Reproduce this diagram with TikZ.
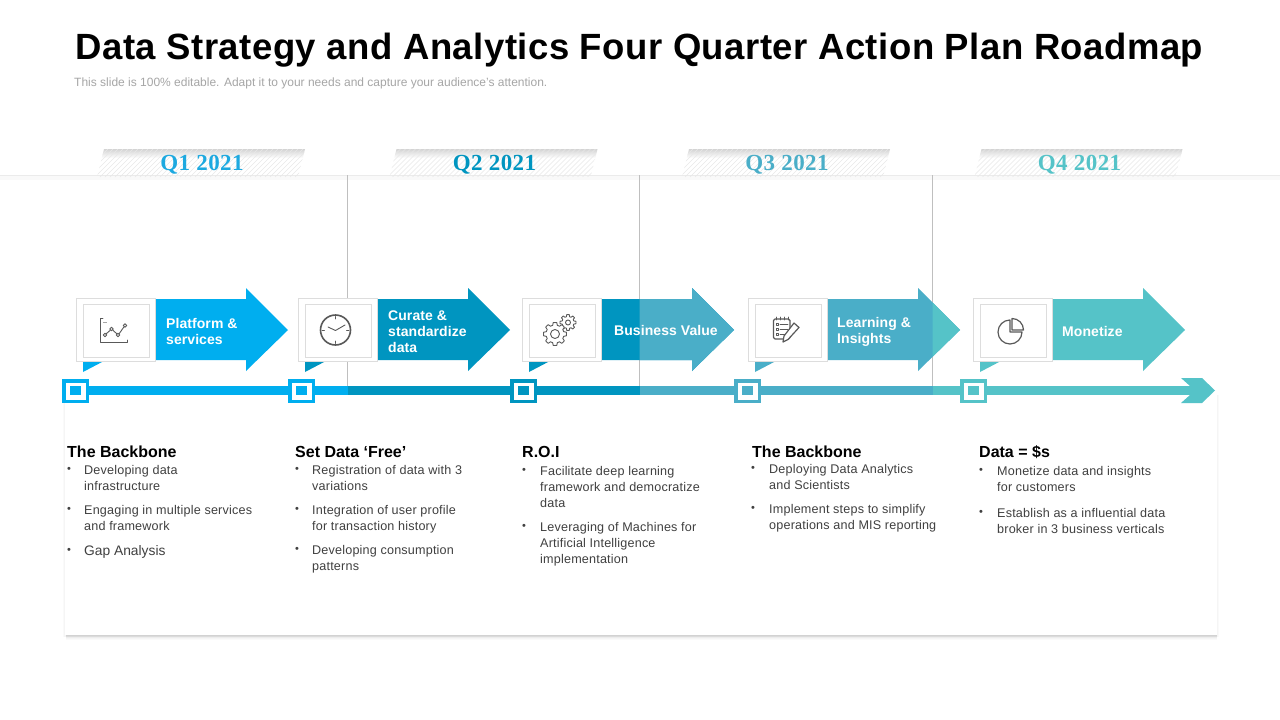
\documentclass[tikz,border=0pt]{standalone}
\usepackage{fontspec}
\setmainfont{Liberation Sans}
\newfontfamily\qfont{Liberation Serif}[LetterSpace=2]
\definecolor{cA}{HTML}{00AEEF}
\definecolor{cB}{HTML}{0095C0}
\definecolor{cC}{HTML}{4AAEC8}
\definecolor{cD}{HTML}{55C3C8}
\definecolor{cQ}{HTML}{1DA9E0}
\definecolor{txt}{HTML}{404040}
\definecolor{icn}{HTML}{595959}
\definecolor{boxln}{HTML}{DDDDDD}
\tikzset{
  titletext/.style={inner sep=0pt,font=\fontsize{36.5}{40}\selectfont\bfseries\addfontfeature{LetterSpace=1.3},text=black},
  subtext/.style={inner sep=0pt,anchor=west,font=\fontsize{12}{14}\selectfont,text=black!35},
  qtext/.style={inner sep=0pt,font=\qfont\bfseries\fontsize{23}{26}\selectfont},
  headtext/.style={inner sep=0pt,anchor=west,font=\fontsize{16}{18}\selectfont\bfseries,text=black},
  itemtext/.style={inner sep=0pt,anchor=north west,align=left,font=\fontsize{12.6}{16}\selectfont\addfontfeature{LetterSpace=1.5},text=txt},
  bullettext/.style={inner sep=0pt,font=\fontsize{11}{12}\selectfont,text=txt},
  arrowtext/.style={inner sep=0pt,anchor=west,align=left,font=\fontsize{14}{16}\selectfont\bfseries\addfontfeature{LetterSpace=.5},text=white},
  outerbox/.style={draw=boxln,line width=1pt,fill=white},
  innerbox/.style={draw=boxln,line width=1pt,fill=white},
  guide/.style={draw=black!25,line width=0.7pt},
  icon/.style={draw=icn,line width=1.2pt,line join=round,line cap=round},
  iconthin/.style={draw=icn,line width=.9pt,line join=round,line cap=round},
}
% #1 x-offset, #2 left colour, #3 split x (absolute), #4 right colour
\newcommand{\bigarrow}[4]{%
  \begin{scope}[xshift=#1pt]
    \path[fill=#2] (150,299) -- (246,299) -- (246,288) -- (288,330) -- (246,371) -- (246,360) -- (150,360) -- cycle;
  \end{scope}
  \begin{scope}
    \clip (#3,280) rectangle (1280,380);
    \begin{scope}[xshift=#1pt]
      \path[fill=#4] (150,299) -- (246,299) -- (246,288) -- (288,330) -- (246,371) -- (246,360) -- (150,360) -- cycle;
    \end{scope}
  \end{scope}}
\newcommand{\iconbox}[2]{%
  \begin{scope}[xshift=#1pt]
    \path[fill=#2] (83,361) -- (104,361) -- (83,372) -- cycle;
    \draw[outerbox] (76,298) rectangle (155.5,361.5);
    \draw[innerbox] (83,304) rectangle (149,357);
  \end{scope}}
\newcommand{\marker}[2]{%
  \begin{scope}[xshift=#1pt]
    \draw[draw=#2,fill=white,line width=3.5pt] (63.75,380.75) rectangle (87.25,401.25);
    \path[fill=#2] (70,386) rectangle (81,395);
  \end{scope}}
\newcommand{\qtab}[4]{%
  \begin{scope}[xshift=#1pt]
    \begin{scope}
      \clip (97,177) -- (104,149) -- (305,149) -- (298,177) -- cycle;
      \shade[top color=black!17,bottom color=white] (90,149) rectangle (310,158);
      \foreach \x in {60,65,...,310}{\draw[black!9,line width=.5pt] (\x,177) -- (\x+28,149);}
    \end{scope}
    \node[qtext,text=#2] (#3) at (202,164.5) {#4};
  \end{scope}}
\newcommand{\bitem}[5]{%
  \node[bullettext] (b#1) at (#2,#4) {•};
  \node[itemtext] (t#1) at (#3,#4-7) {\strut #5};}
\newcommand{\gearicon}[5]{%
  \begin{scope}[shift={(#1,#2)}]
    \draw[iconthin,fill=white] (0:#3) \foreach \i in {0,...,7}{
      -- ({\i*45+9}:#3) -- ({\i*45+15}:#4) -- ({\i*45+30}:#4) -- ({\i*45+36}:#3) -- ({\i*45+45}:#3)} -- cycle;
    \draw[iconthin] (0,0) circle (#5);
  \end{scope}}
\begin{document}
\begin{tikzpicture}[x=1pt,y=-1pt]
\useasboundingbox (0,0) rectangle (1280,720);
\fill[white] (0,0) rectangle (1280,720);
% title
\node[titletext] (title) at (639.5,50) {Data Strategy and Analytics Four Quarter Action Plan Roadmap};
\node[subtext] (sub) at (74,83) {This slide is 100\% editable. Adapt it to your needs and capture your audience’s attention.};
% header band
\fill[black!2.5] (0,175) rectangle (1280,180);
\draw[black!8,line width=.6pt] (0,175) -- (1280,175);
% tabs
\qtab{0}{cQ}{q1}{Q1 2021}
\qtab{292.5}{cB}{q2}{Q2 2021}
\qtab{585}{cC}{q3}{Q3 2021}
\qtab{877.5}{cD}{q4}{Q4 2021}
% guides
\coordinate (g1t) at (347.5,175); \coordinate (g1b) at (347.5,386);
\coordinate (g2t) at (639.5,175); \coordinate (g2b) at (639.5,386);
\coordinate (g3t) at (932.5,175); \coordinate (g3b) at (932.5,386);
\draw[guide] (g1t) -- (g1b);
\draw[guide] (g2t) -- (g2b);
\draw[guide] (g3t) -- (g3b);
% card with soft shadow
\fill[black,opacity=.02] (63,395) rectangle (1219,637);
\fill[black,opacity=.02] (64,395) rectangle (1218,637);
\foreach \d/\o in {5/.02,4/.02,3/.03,2/.03,1/.04}{
  \fill[black,opacity=\o] (66,630) rectangle (1217,635+\d);
}
\fill[white] (65,395) rectangle (1217,635);
% timeline bar
\fill[cA] (75,386) rectangle (347.5,395);
\fill[cB] (347.5,386) rectangle (639.5,395);
\fill[cC] (639.5,386) rectangle (932.5,395);
\fill[cD] (932.5,386) rectangle (1190,395);
\fill[cD] (1181,378) -- (1202,378) -- (1215,390.5) -- (1202,403) -- (1181,403) -- (1190,395) -- (1190,386) -- cycle;
% arrows
\bigarrow{0}{cA}{1280}{cA}
\bigarrow{222}{cB}{1280}{cB}
\bigarrow{446}{cB}{639.5}{cC}
\bigarrow{672}{cC}{932.5}{cD}
\bigarrow{897}{cD}{1280}{cD}
% icon boxes
\iconbox{0}{cA}
\iconbox{222}{cB}
\iconbox{446}{cB}
\iconbox{672}{cC}
\iconbox{897}{cD}
% markers
\marker{0}{cA}
\marker{226}{cA}
\marker{448}{cB}
\marker{672}{cC}
\marker{898}{cD}
% chart icon
\draw[iconthin] (103,318) -- (100.5,318) -- (100.5,342) -- (127,342) -- (127,340);
\draw[black!35,line width=.9pt] (103,322.5) -- (107,322.5);
\draw[iconthin] (105,335) circle (1.8) (111.5,329) circle (1.8) (118,335) circle (1.8) (125,325.5) circle (1.8);
\draw[iconthin] (106.3,333.7) -- (110.3,330.2) (112.9,330.2) -- (116.7,333.7) (119.2,333.6) -- (123.9,327);
% clock icon
\draw[icn,line width=1.6pt] (335.5,330) circle (15);
\foreach \a in {0,90,180,270}{\draw[iconthin] (335.5,330) ++(\a:13.5) -- ++(\a:-2.5);}
\draw[iconthin] (335.5,330.5) -- (328,327) (335.5,330.5) -- (345,325);
% gears icon
\gearicon{568}{322.5}{8}{6}{2.5}
\gearicon{555}{334}{11.5}{9}{4.5}
% notes icon
\draw[icon,rounded corners=1.5pt] (773.5,319) rectangle (790,339);
\foreach \x in {776,780,784,788}{\draw[iconthin] (\x,317) -- (\x,320);}
\foreach \y in {324,329,334}{
  \draw[iconthin] (776,\y-1) rectangle (778,\y+1);
  \draw[iconthin] (780,\y) -- (788,\y);
}
\draw[icon,fill=white] (794,323) -- (799,327.5) -- (788,339.5) -- (783,342) -- (784,336) -- cycle;
% pie icon
\draw[icn,line width=1.2pt,line join=round] (1010,320) arc[start angle=90,end angle=360,radius=12pt] -- (1010,332) -- cycle;
\draw[icn,line width=1.2pt,line join=round] (1012,318.5) arc[start angle=90,end angle=0,radius=11.5pt] -- (1012,330) -- cycle;
% arrow labels
\node[arrowtext] (a1) at (166,331.5) {Platform \&\\services};
\node[arrowtext] (a2) at (388,331.5) {Curate \&\\standardize\\data};
\node[arrowtext] (a3) at (614,330.5) {Business Value};
\node[arrowtext] (a4) at (837,331.5) {Learning \&\\Insights};
\node[arrowtext] (a5) at (1062,331.5) {Monetize};
% column 1
\node[headtext] (h1) at (67,452) {The Backbone};
\bitem{11}{69}{84}{470}{Developing data\\infrastructure}
\bitem{12}{69}{84}{510}{Engaging in multiple services\\and framework}
\node[bullettext] (b13) at (69,551) {•};
\node[itemtext,font=\fontsize{13.8}{16}\selectfont] (t13) at (84,544) {\strut Gap Analysis};
% column 2
\node[headtext] (h2) at (295,452) {Set Data ‘Free’};
\bitem{21}{297}{312}{470}{Registration of data with 3\\variations}
\bitem{22}{297}{312}{510}{Integration of user profile\\for transaction history}
\bitem{23}{297}{312}{550}{Developing consumption\\patterns}
% column 3
\node[headtext] (h3) at (522,452) {R.O.I};
\bitem{31}{524}{540}{471}{Facilitate deep learning\\framework and democratize\\data}
\bitem{32}{524}{540}{527}{Leveraging of Machines for\\Artificial Intelligence\\implementation}
% column 4
\node[headtext] (h4) at (752,452) {The Backbone};
\bitem{41}{753}{769}{469}{Deploying Data Analytics\\and Scientists}
\bitem{42}{753}{769}{509}{Implement steps to simplify\\operations and MIS reporting}
% column 5
\node[headtext] (h5) at (979,452) {Data = \$s};
\bitem{51}{981}{997}{471}{Monetize data and insights\\for customers}
\bitem{52}{981}{997}{513}{Establish as a influential data\\broker in 3 business verticals}
\end{tikzpicture}
\end{document}
